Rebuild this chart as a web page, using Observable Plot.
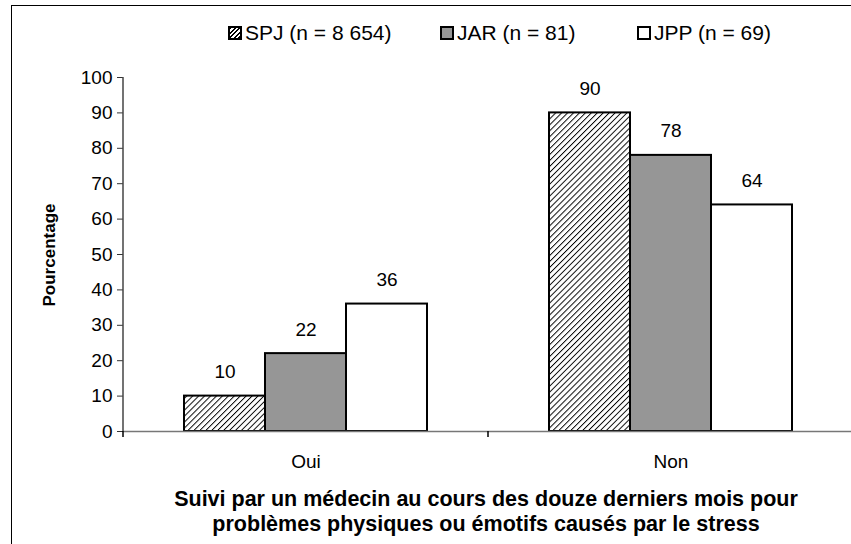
<!DOCTYPE html>
<html>
<head>
<meta charset="utf-8">
<script src="https://cdn.jsdelivr.net/npm/d3@7"></script>
<script src="https://cdn.jsdelivr.net/npm/@observablehq/plot@0.6"></script>
<style>
  html, body { margin: 0; padding: 0; background: #fff; overflow: hidden; }
  #wrap { position: relative; width: 851px; height: 544px; overflow: hidden; font-family: "Liberation Sans", Arial, sans-serif; }
  #border { position: absolute; left: 11px; top: 5px; width: 900px; height: 600px; border: 1.5px solid #000; box-sizing: border-box; }
  #legend { position: absolute; top: 21px; left: 0; width: 851px; height: 24px; }
  .item { position: absolute; top: 0; display: flex; align-items: center; font-size: 21px; color: #000; white-space: nowrap; }
  .sw { width: 10px; height: 10px; border: 2px solid #000; margin-right: 3px; }
  #chart { position: absolute; left: 0; top: 0; }
  #chart svg { max-width: none !important; }
  #title { position: absolute; left: 0; width: 972px; top: 487px; text-align: center; font-weight: bold; font-size: 21.5px; line-height: 25px; color: #000; }
  #ylabel { position: absolute; left: 50px; top: 255px; transform: translate(-50%, -50%) rotate(-90deg); font-weight: bold; font-size: 17px; white-space: nowrap; color: #000; }
</style>
</head>
<body>
<div id="wrap">
  <div id="border"></div>
  <div id="chart"></div>
  <div id="legend"></div>
  <div id="ylabel">Pourcentage</div>
  <div id="title">Suivi par un médecin au cours des douze derniers mois pour<br>problèmes physiques ou émotifs causés par le stress</div>
</div>
<script>
const categories = ["Oui", "Non"];
const series = ["SPJ (n = 8 654)", "JAR (n = 81)", "JPP (n = 69)"];
const seriesKeys = ["SPJ", "JAR", "JPP"];
const valuesSPJ = [10, 90];
const valuesJAR = [22, 78];
const valuesJPP = [36, 64];
const yTicks = [0, 10, 20, 30, 40, 50, 60, 70, 80, 90, 100];
const fills = ["url(#hatch)", "#969696", "#ffffff"];

const allValues = [valuesSPJ, valuesJAR, valuesJPP];
const data = [];
categories.forEach((c, i) => {
  seriesKeys.forEach((s, j) => data.push({cat: c, ser: s, value: allValues[j][i]}));
});

const plot = Plot.plot({
  width: 880,
  height: 544,
  marginLeft: 123,
  marginRight: 27,
  marginTop: 77,
  marginBottom: 113,
  style: {fontFamily: "Liberation Sans, Arial, sans-serif", fontSize: "19px", color: "#000", background: "transparent", maxWidth: "none"},
  fx: {domain: categories, padding: 0, label: null},
  x: {domain: seriesKeys, paddingInner: 0, paddingOuter: 0.753, axis: null},
  y: {domain: [0, 100], label: null},
  color: {domain: seriesKeys, range: fills},
  marks: [
    Plot.barY(data, {fx: "cat", x: "ser", y: "value", fill: "ser", stroke: "#000", strokeWidth: 2}),
    Plot.text(data, {fx: "cat", x: "ser", y: "value", text: d => String(d.value), dy: -24, fontSize: 19, fill: "#000"}),
    Plot.ruleY([0], {stroke: "#777", strokeWidth: 1.5}),
    Plot.axisY({ticks: yTicks, tickSize: 6, tickPadding: 5, stroke: "#333", fontSize: 19, label: null}),
    Plot.axisFx({anchor: "bottom", tickSize: 0, tickPadding: 23, fontSize: 19, label: null})
  ]
});

// hatch pattern
const svg = d3.select(plot);
const defs = svg.insert("defs", ":first-child");
const pat = defs.append("pattern").attr("id", "hatch").attr("patternUnits", "userSpaceOnUse")
  .attr("width", 4.2).attr("height", 4.2).attr("patternTransform", "rotate(45)");
pat.append("rect").attr("width", 4.2).attr("height", 4.2).attr("fill", "#fff");
pat.append("line").attr("x1", 0).attr("y1", 0).attr("x2", 0).attr("y2", 4.2).attr("stroke", "#000").attr("stroke-width", 1.9);

// y axis line and category boundary ticks via the plot's own scales
const fx = plot.scale("fx"), y = plot.scale("y");
const y0 = y.apply(0), y100 = y.apply(100);
const x0 = fx.apply(categories[0]);
svg.append("line").attr("x1", x0).attr("x2", x0).attr("y1", y100).attr("y2", y0).attr("stroke", "#444").attr("stroke-width", 1.5);
const bounds = categories.map(c => fx.apply(c)).concat([fx.apply(categories[categories.length - 1]) + fx.bandwidth]);
bounds.forEach(b => svg.append("line").attr("x1", b).attr("x2", b).attr("y1", y0).attr("y2", y0 + 6).attr("stroke", "#000").attr("stroke-width", 1.5));

document.getElementById("chart").appendChild(plot);

// legend (HTML)
const legend = document.getElementById("legend");
const legendLeft = [228, 440, 637];
const swFill = ["hatch", "#969696", "#ffffff"];
series.forEach((s, i) => {
  const it = document.createElement("div");
  it.className = "item";
  it.style.left = legendLeft[i] + "px";
  const sw = document.createElement("div");
  sw.className = "sw";
  if (swFill[i] === "hatch") {
    sw.style.background = "repeating-linear-gradient(-45deg, #000 0 1.6px, #fff 1.6px 3.2px)";
  } else sw.style.background = swFill[i];
  it.appendChild(sw);
  const t = document.createElement("span");
  t.textContent = s;
  it.appendChild(t);
  legend.appendChild(it);
});
</script>
</body>
</html>
